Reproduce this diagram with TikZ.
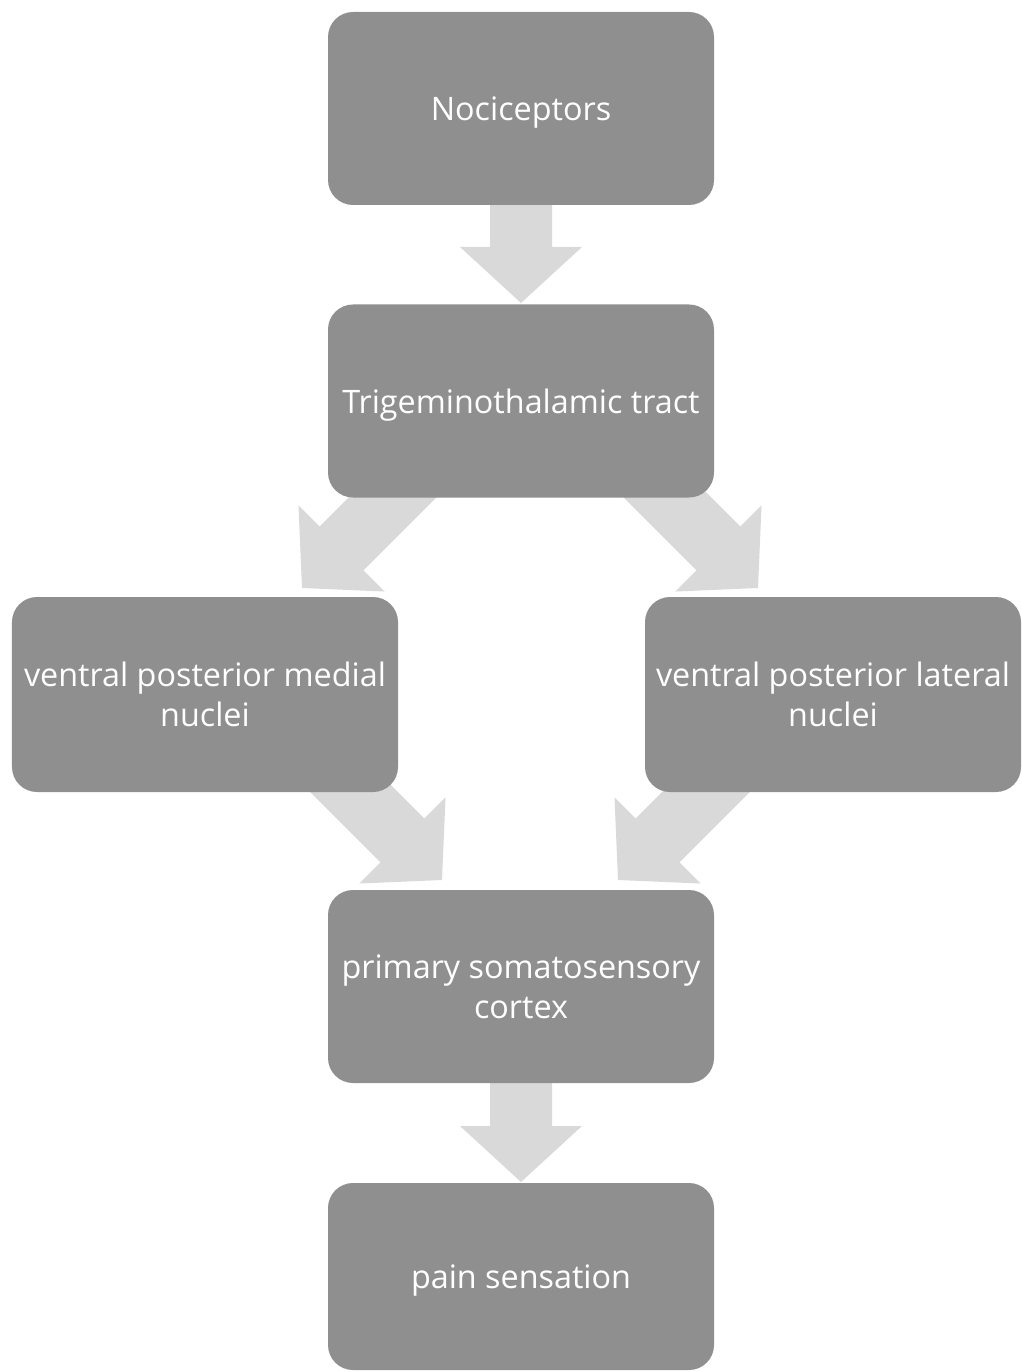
\documentclass[tikz,border=0pt]{standalone}
\usepackage{fontspec}
\setmainfont{Open Sans}
\definecolor{boxfill}{HTML}{8F8F8F}
\definecolor{arrowfill}{HTML}{D9D9D9}
\newcommand\blockarrow[3]{%
  \fill[arrowfill, shift={(#1)}, rotate=#2]
    (0,0) -- (-56,61) -- (-56,31) -- (-#3,31) -- (-#3,-31) -- (-56,-31) -- (-56,-61) -- cycle;}
\newcommand\lowered[1]{\raisebox{-0.8mm}[\height][\depth]{#1}}
\begin{document}
\begin{tikzpicture}[x=0.2mm,y=-0.2mm,
  stagebox/.style={fill=boxfill, rounded corners=5mm, inner sep=0pt,
    minimum width=77.2mm, minimum height=38.6mm, text=white, align=center,
    font=\fontsize{18.4}{22.7}\selectfont}]
\useasboundingbox (0,0) rectangle (1021,1372);
% tips of block arrows
\coordinate (t1) at (521,303);
\coordinate (t2) at (302,588);
\coordinate (t3) at (758,588);
\coordinate (t4) at (442,880);
\coordinate (t5) at (618,880);
\coordinate (t6) at (521,1182);
\blockarrow{t1}{270}{110}
\blockarrow{t2}{225}{180}
\blockarrow{t3}{315}{180}
\blockarrow{t4}{315}{180}
\blockarrow{t5}{225}{180}
\blockarrow{t6}{270}{110}
\node[stagebox] (noc) at (521,108.5) {\lowered{Nociceptors}};
\node[stagebox] (trig) at (521,401) {\lowered{Trigeminothalamic tract}};
\node[stagebox, minimum height=39mm] (vpm) at (205,694.5) {ventral posterior medial\\nuclei};
\node[stagebox, minimum width=75.2mm, minimum height=39mm] (vpl) at (833,694.5) {ventral posterior lateral\\nuclei};
\node[stagebox] (prim) at (521,986.5) {primary somatosensory\\cortex};
\node[stagebox, minimum height=37.4mm] (pain) at (521,1276.5) {\lowered{pain sensation}};
\end{tikzpicture}
\end{document}
